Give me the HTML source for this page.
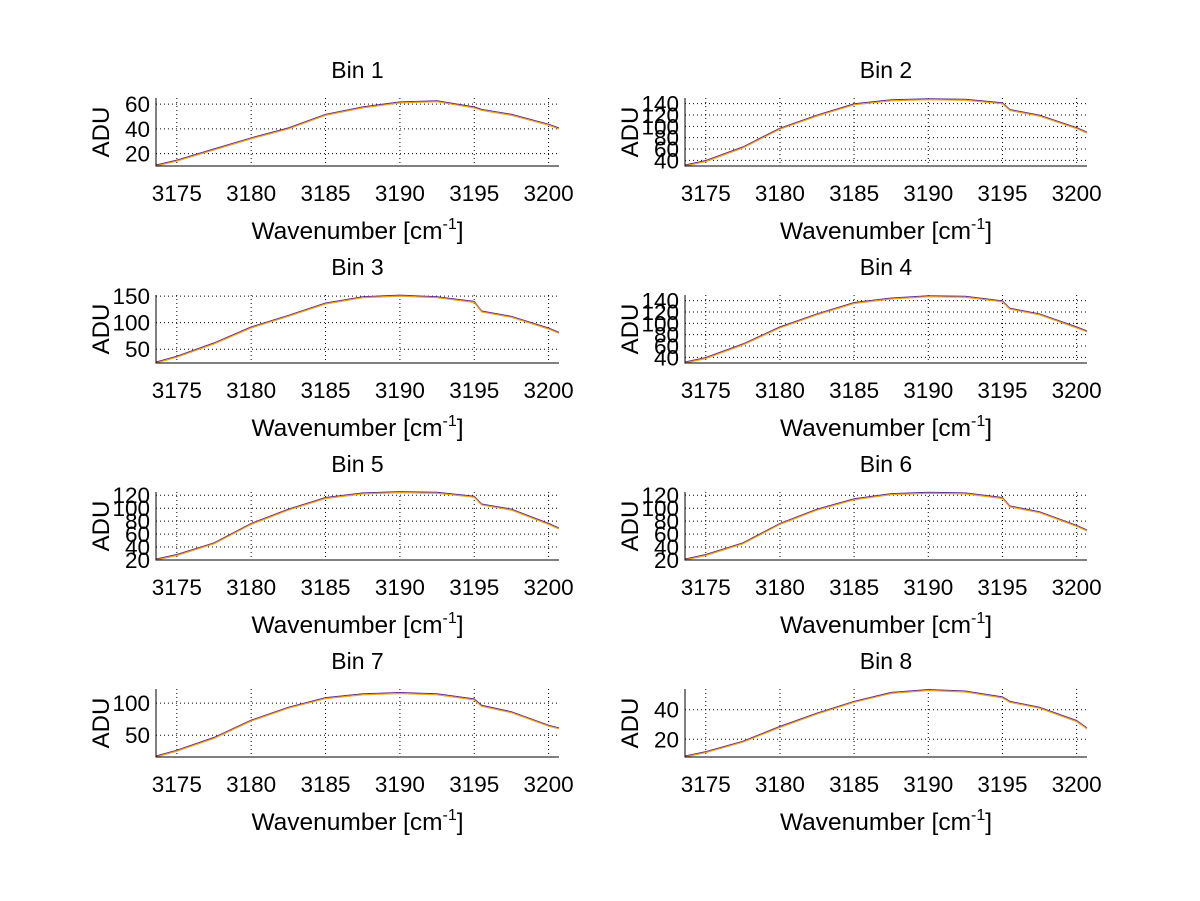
<!DOCTYPE html>
<html><head><meta charset="utf-8"><style>
body{margin:0;background:#fff}
svg{display:block;font-family:"Liberation Sans",Arial,sans-serif}
</style></head><body>
<svg id="fig" width="1200" height="901" viewBox="0 0 1200 901"></svg>
<script>
const xs=[3173.6,3175,3177.5,3180,3182.5,3185,3187.5,3190,3192.5,3195,3195.5,3197.5,3200,3200.7];
const xTicks=[3175,3180,3185,3190,3195,3200];
const titles=["Bin 1","Bin 2","Bin 3","Bin 4","Bin 5","Bin 6","Bin 7","Bin 8"];
const bin1=[10,14,23,32,40,51,57,61,62,57,55,51,43,40];
const bin2=[30,38,62,95,118,138,145,147,146,140,128,118,96,88];
const bin3=[24,35,60,90,112,135,147,150,147,138,120,110,88,80];
const bin4=[30,38,62,92,115,135,143,147,146,138,125,115,92,85];
const bin5=[20,27,45,75,97,115,122,124,123,117,105,97,75,68];
const bin6=[20,27,45,75,97,113,121,123,122,115,102,93,72,65];
const bin7=[16,25,45,72,92,107,113,115,113,105,95,85,64,60];
const bin8=[8,11,18,28,37,45,51,53,52,48,45,41,32,27];
const series=[bin1,bin2,bin3,bin4,bin5,bin6,bin7,bin8];
const yLims=[[10,65],[30,150],[24,152],[30,150],[20,125],[20,125],[16,122],[8,54]];
const yTicks=[[20,40,60],[40,60,80,100,120,140],[50,100,150],[40,60,80,100,120,140],[20,40,60,80,100,120],[20,40,60,80,100,120],[50,100],[20,40]];
const NS="http://www.w3.org/2000/svg";
const svg=document.getElementById('fig');
function mk(tag,attrs,parent){const e=document.createElementNS(NS,tag);for(const k in attrs)e.setAttribute(k,attrs[k]);parent.appendChild(e);return e;}
const xMin=3173.6,xMax=3200.7;
for(let i=0;i<8;i++){
  const col=i%2,row=Math.floor(i/2);
  const L=col?685:156,R=col?1087:559,T=98+row*197,B=166+row*197;
  const g=mk('g',{},svg);
  
  
  const sx=v=>L+(v-xMin)/(xMax-xMin)*(R-L);
  const [y0,y1]=yLims[i];
  const sy=v=>B-(v-y0)/(y1-y0)*(B-T);
  xTicks.forEach(t=>{
    const x=sx(t);
    const gl=mk('line',{x1:x,x2:x,y1:T,y2:B,stroke:'#000','stroke-width':1,'stroke-dasharray':'1,3'},g);
    
    
    const tl=mk('text',{x:x,y:B+35,'font-size':22.5,'text-anchor':'middle'},g);
    tl.textContent=t;
    
    
  });
  yTicks[i].forEach(t=>{
    const y=sy(t);
    const gl=mk('line',{x1:L,x2:R,y1:y,y2:y,stroke:'#000','stroke-width':1,'stroke-dasharray':'1,3'},g);
    
    
    const tl=mk('text',{x:L-6,y:y+8,'font-size':22.5,'text-anchor':'end'},g);
    tl.textContent=t;
    
    
  });
  const d=series[i].map((v,j)=>(j?'L':'M')+sx(xs[j]).toFixed(1)+','+sy(v).toFixed(1)).join('');
  const p2=mk('path',{d:d,fill:'none',stroke:'#5a2d8c','stroke-width':1,transform:'translate(0,-1)'},g);
  
  
  const p=mk('path',{d:d,fill:'none',stroke:'#f0a020','stroke-width':1.2},g);
  
  
  const ax=mk('path',{d:`M${L},${T}V${B}H${R}`,fill:'none',stroke:'#000','stroke-width':1},g);
  
  
  const tt=mk('text',{x:(L+R)/2,y:T-20,'font-size':23,'text-anchor':'middle'},g);
  tt.textContent=titles[i];
  
  
  const yl=mk('text',{x:0,y:0,'font-size':24,'text-anchor':'middle',transform:`translate(${L-47},${(T+B)/2}) rotate(-90)`},g);
  yl.textContent='ADU';
  
  
  const xl=mk('text',{x:(L+R)/2,y:B+73,'font-size':24.5,'text-anchor':'middle'},g);
  xl.innerHTML='Wavenumber [cm<tspan dy="-10" font-size="16">-1</tspan><tspan dy="10">]</tspan>';
  
  
}
</script>
</body></html>
